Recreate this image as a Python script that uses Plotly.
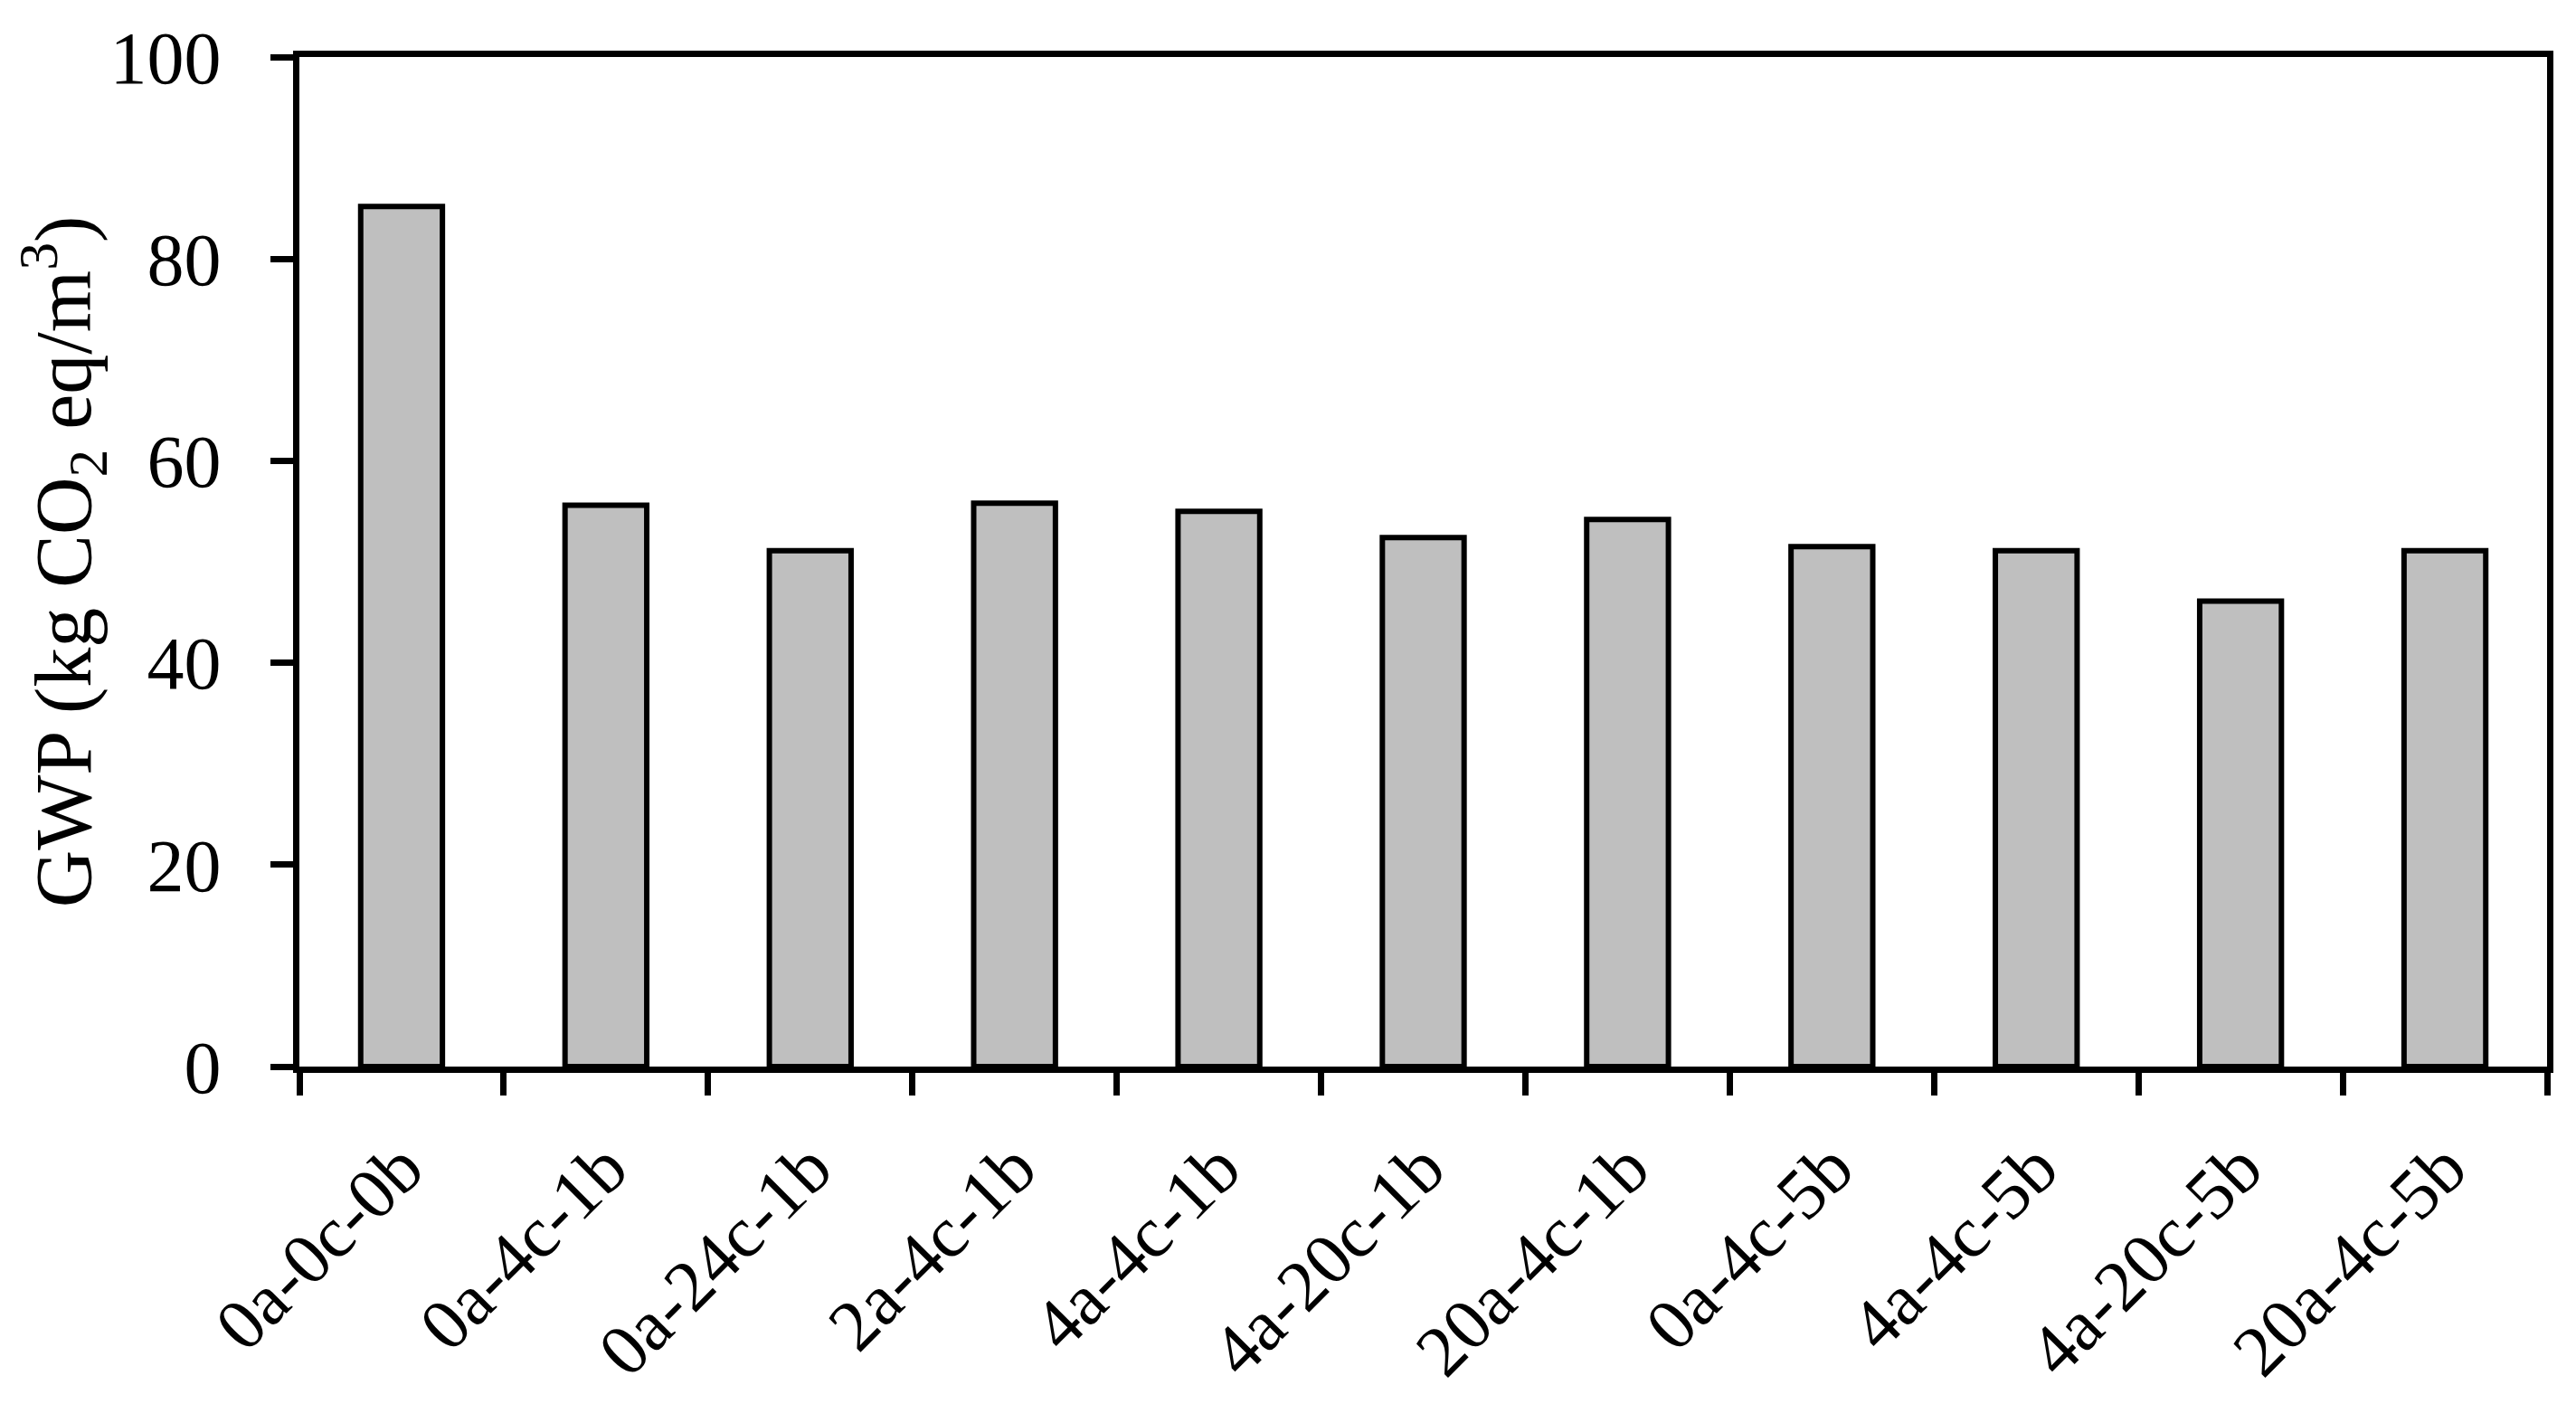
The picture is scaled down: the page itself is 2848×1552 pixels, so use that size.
import plotly.graph_objects as go

categories = ["0a-0c-0b", "0a-4c-1b", "0a-24c-1b", "2a-4c-1b", "4a-4c-1b",
              "4a-20c-1b", "20a-4c-1b", "0a-4c-5b", "4a-4c-5b", "4a-20c-5b", "20a-4c-5b"]
gwp_values = [85.2, 55.6, 51.1, 55.8, 55.0, 52.4, 54.2, 51.5, 51.1, 46.1, 51.1]
y_ticks = [0, 20, 40, 60, 80, 100]

FONT = "Liberation Serif"

fig = go.Figure(
    go.Bar(
        x=categories,
        y=gwp_values,
        marker=dict(color="#BFBFBF", line=dict(color="black", width=6)),
        width=0.4,
    )
)

# page body has an 8px default margin, so the figure is 8px smaller than the window
fig.update_layout(
    width=2840,
    height=1544,
    margin=dict(l=323, r=32, t=55, b=373),
    paper_bgcolor="white",
    plot_bgcolor="white",
    showlegend=False,
    font=dict(family=FONT, size=80, color="black"),
)

fig.update_xaxes(
    type="category",
    automargin=False,
    showline=True, linecolor="black", linewidth=7, mirror=True,
    ticks="outside", ticklen=25, tickwidth=7, tickcolor="black",
    tickson="boundaries",
    tickangle=-45,
    tickfont=dict(family=FONT, size=80, color="black"),
    ticklabelstandoff=26,
    showgrid=False,
)

fig.update_yaxes(
    range=[0, 100],
    automargin=False,
    tickvals=y_ticks,
    showline=True, linecolor="black", linewidth=7, mirror=True,
    ticks="outside", ticklen=25, tickwidth=7, tickcolor="black",
    tickfont=dict(family=FONT, size=82, color="black"),
    ticklabelstandoff=38,
    showgrid=False, zeroline=False,
    title=dict(text="GWP (kg CO<sub>2</sub> eq/m<sup>3</sup>)",
               font=dict(family=FONT, size=88, color="black"), standoff=14),
)

fig.write_html("out.html")
